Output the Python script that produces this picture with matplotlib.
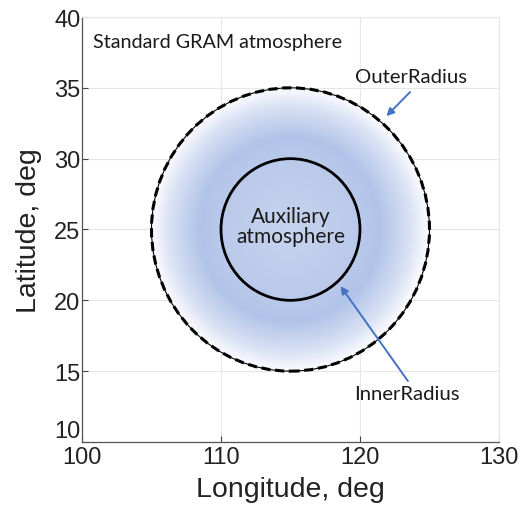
import numpy as np
import matplotlib
matplotlib.use("Agg")
import matplotlib.pyplot as plt
from matplotlib.patches import Circle

# Data
center_lon = 115.0
center_lat = 25.0
inner_radius = 5.0
outer_radius = 10.0
x_ticks = [100, 110, 120, 130]
y_ticks = [10, 15, 20, 25, 30, 35, 40]
x_label = "Longitude, deg"
y_label = "Latitude, deg"
label_std = "Standard GRAM atmosphere"
label_aux = "Auxiliary\natmosphere"
label_outer = "OuterRadius"
label_inner = "InnerRadius"

# gradient profile (fraction of outer radius -> colour)
grad_r = [0.0, 0.5, 0.65, 0.88, 1.0]
grad_c = [(0.78, 0.83, 0.935), (0.73, 0.79, 0.92), (0.69, 0.765, 0.91), (0.86, 0.89, 0.96), (0.99, 0.99, 1.0)]

fig = plt.figure(figsize=(5.31, 5.10), dpi=100)
ax = fig.add_axes([0.1544, 0.1314, 0.9397 - 0.1544, 0.9647 - 0.1314])
ax.set_xlim(x_ticks[0], x_ticks[-1])
ax.set_ylim(y_ticks[0], y_ticks[-1])
ax.set_xticks(x_ticks)
ax.set_yticks(y_ticks)

tick_font = dict(family=["Liberation Sans", "DejaVu Sans"], size=17)
ax.set_xticklabels([str(t) for t in x_ticks], fontdict=tick_font, color="#222222")
ax.set_yticklabels([str(t) for t in y_ticks], fontdict=tick_font, color="#222222")
ax.tick_params(direction="in", length=4, width=0.8, color="#444444")
ax.tick_params(axis="x", pad=3)
ax.tick_params(axis="y", pad=1)
# lowest y tick label sits slightly raised, as in the reference
ax.get_yticklabels()[0].set_va("bottom")
ax.set_xlabel(x_label, fontsize=20.5, family=["Liberation Sans", "DejaVu Sans"], color="#222222", labelpad=6)
ax.set_ylabel(y_label, fontsize=20.5, family=["Liberation Sans", "DejaVu Sans"], color="#222222", labelpad=9)

ax.grid(True, color="#e6e6e6", linewidth=0.8)
ax.set_axisbelow(True)
for s in ["top", "right"]:
    ax.spines[s].set_color("#e6e6e6")
    ax.spines[s].set_linewidth(0.8)
for s in ["left", "bottom"]:
    ax.spines[s].set_color("#555555")
    ax.spines[s].set_linewidth(0.9)

# radial gradient
n = 400
xs = np.linspace(center_lon - outer_radius, center_lon + outer_radius, n)
ys = np.linspace(center_lat - outer_radius, center_lat + outer_radius, n)
X, Y = np.meshgrid(xs, ys)
R = np.sqrt((X - center_lon) ** 2 + (Y - center_lat) ** 2) / outer_radius
R = np.clip(R, 0, 1)
img = np.zeros((n, n, 3))
gc = np.array(grad_c)
for k in range(3):
    img[..., k] = np.interp(R, grad_r, gc[:, k])
im = ax.imshow(img, extent=[xs[0], xs[-1], ys[0], ys[-1]], origin="lower",
               interpolation="bilinear", zorder=1, aspect="auto")
clip = Circle((center_lon, center_lat), outer_radius, transform=ax.transData, facecolor="none", edgecolor="none")
ax.add_patch(clip)
im.set_clip_path(clip)

# circles
ax.add_patch(Circle((center_lon, center_lat), outer_radius, fill=False, edgecolor="black", lw=0.8, zorder=3))
ax.add_patch(Circle((center_lon, center_lat), outer_radius, fill=False, edgecolor="black", lw=2.2,
                    linestyle=(0, (3, 1.5)), zorder=3))
ax.add_patch(Circle((center_lon, center_lat), inner_radius, fill=False, edgecolor="black", lw=2.0, zorder=3))

txt_font = ["Lato", "DejaVu Sans"]
ax.text(100.8, 38.3, label_std, fontsize=14.2, family=txt_font, color="#1a1a1a", va="center", ha="left")
ax.text(center_lon, center_lat + 0.25, label_aux, fontsize=15, family=txt_font, color="#1a1a1a",
        va="center", ha="center", linespacing=1.0, zorder=4)
ax.text(123.7, 35.8, label_outer, fontsize=14.6, family=txt_font, color="#1a1a1a", va="center", ha="center")
ax.text(123.4, 13.4, label_inner, fontsize=14.6, family=txt_font, color="#1a1a1a", va="center", ha="center")

arrow_color = "#4472C4"
ax.annotate("", xy=(121.9, 33.0), xytext=(123.6, 34.7),
            arrowprops=dict(arrowstyle="-|>", color=arrow_color, lw=1.4, mutation_scale=11, shrinkA=0, shrinkB=0), zorder=5)
ax.annotate("", xy=(118.6, 21.0), xytext=(123.45, 14.3),
            arrowprops=dict(arrowstyle="-|>", color=arrow_color, lw=1.4, mutation_scale=11, shrinkA=0, shrinkB=0), zorder=5)

fig.savefig("out.png", dpi=100, facecolor="white")
